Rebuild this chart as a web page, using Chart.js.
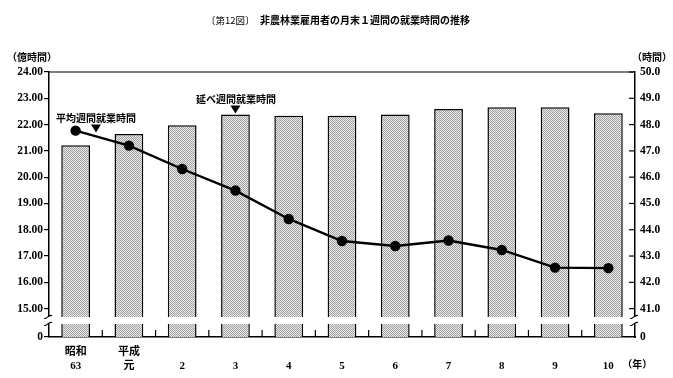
<!DOCTYPE html>
<html>
<head>
<meta charset="utf-8">
<script src="https://cdn.jsdelivr.net/npm/chart.js@4"></script>
<style>
  html, body { margin: 0; padding: 0; background: #fff; }
  #wrap { width: 673px; height: 378px; }
</style>
</head>
<body>
<div id="wrap"><canvas id="grafica" width="673" height="378"></canvas></div>
<script>
// data
const labels = [['昭和', '63'], ['平成', '元'], ['', '2'], ['', '3'], ['', '4'], ['', '5'],
                ['', '6'], ['', '7'], ['', '8'], ['', '9'], ['', '10']];
const totalHours = [21.21, 21.64, 21.97, 22.38, 22.34, 22.34, 22.38, 22.59, 22.66, 22.66, 22.43];   // 億時間
const avgHours = [47.77, 47.2, 46.31, 45.49, 44.41, 43.57, 43.38, 43.59, 43.23, 42.56, 42.54];      // 時間
const leftTicks = [15, 16, 17, 18, 19, 20, 21, 22, 23, 24];
const rightTicks = [41, 42, 43, 44, 45, 46, 47, 48, 49, 50];
const leftMin = 13.92, rightMin = 39.92;

const numFont = "'Liberation Serif', 'Noto Sans CJK JP', serif";
const jpFont = "'Noto Sans CJK JP', sans-serif";

const graph = document.querySelector('#grafica');

// dotted grey fill like the printed screen
function dotPattern() {
  const c = document.createElement('canvas');
  c.width = 2; c.height = 2;
  const g = c.getContext('2d');
  g.fillStyle = '#ebebeb'; g.fillRect(0, 0, 2, 2);
  g.fillStyle = '#a0a0a0'; g.fillRect(0, 0, 1, 1); g.fillRect(1, 1, 1, 1);
  return graph.getContext('2d').createPattern(c, 'repeat');
}

function squiggle(ctx, x, y) {
  ctx.beginPath();
  ctx.moveTo(x - 5, y + 1.5);
  ctx.bezierCurveTo(x - 2, y + 2.5, x - 1, y - 2.5, x + 3, y - 1.5);
  ctx.stroke();
}

const extras = {
  id: 'extras',
  afterDatasetsDraw(chart) {
    const ctx = chart.ctx;
    const a = chart.chartArea;
    const y = chart.scales.y, y2 = chart.scales.y2, x = chart.scales.x;
    ctx.save();
    ctx.strokeStyle = '#000';
    ctx.fillStyle = '#000';

    // top frame line
    ctx.lineWidth = 1.2;
    ctx.beginPath(); ctx.moveTo(a.left, a.top); ctx.lineTo(a.right, a.top); ctx.stroke();

    // inward ticks on the right axis
    rightTicks.forEach(v => {
      const py = y2.getPixelForValue(v);
      ctx.beginPath(); ctx.moveTo(a.right - 6, py); ctx.lineTo(a.right, py); ctx.stroke();
    });

    // upward ticks between categories
    const half = (x.getPixelForValue(1) - x.getPixelForValue(0)) / 2;
    for (let i = 0; i < labels.length - 1; i++) {
      const px = x.getPixelForValue(i) + half;
      ctx.beginPath(); ctx.moveTo(px, a.bottom); ctx.lineTo(px, a.bottom - 7); ctx.stroke();
    }

    // axis break band
    const yb = y.getPixelForValue(14.55);
    ctx.fillStyle = '#fff';
    ctx.fillRect(a.left - 1, yb - 3.5, a.right - a.left + 2, 7);
    ctx.lineWidth = 1.1;
    [a.left, a.right].forEach(px => {
      squiggle(ctx, px, yb - 3.5);
      squiggle(ctx, px, yb + 3.5);
    });

    // texts
    ctx.fillStyle = '#000';
    ctx.textBaseline = 'middle';
    ctx.textAlign = 'left';
    ctx.font = '9.5px ' + jpFont;
    ctx.fillText('〔第12図〕', 206, 20);
    ctx.font = 'bold 10px ' + jpFont;
    ctx.fillText('非農林業雇用者の月末１週間の就業時間の推移', 260, 20);

    ctx.textAlign = 'center';
    ctx.fillText('（億時間）', 32, 57);
    ctx.fillText('（時間）', 652, 57);

    ctx.fillText('平均週間就業時間', 96, 118);
    ctx.fillText('延べ週間就業時間', 236, 99);

    // triangles pointing at the series
    const tri = (cx, top) => {
      ctx.beginPath();
      ctx.moveTo(cx - 5, top); ctx.lineTo(cx + 5, top); ctx.lineTo(cx, top + 8);
      ctx.closePath(); ctx.fill();
    };
    tri(96, 124.5);
    tri(x.getPixelForValue(3), 105.5);

    ctx.textAlign = 'left';
    ctx.fillText('（年）', x.getPixelForValue(10) + 14, 364);
    ctx.restore();
  }
};

const data = {
  labels: labels,
  datasets: [
    {
      type: 'line',
      label: '平均週間就業時間',
      data: avgHours,
      yAxisID: 'y2',
      borderColor: '#000',
      backgroundColor: '#000',
      borderWidth: 2.4,
      pointRadius: 4,
      pointBackgroundColor: '#000',
      tension: 0,
      order: 0
    },
    {
      type: 'bar',
      label: '延べ週間就業時間',
      data: totalHours,
      yAxisID: 'y',
      backgroundColor: dotPattern(),
      borderColor: '#000',
      borderWidth: 1.5,
      barPercentage: 0.54,
      categoryPercentage: 1,
      order: 1
    }
  ]
};

const config = {
  type: 'bar',
  data: data,
  plugins: [extras],
  options: {
    responsive: false,
    animation: false,
    layout: { padding: { top: 72, left: 0, right: 0, bottom: 0 } },
    plugins: { legend: { display: false }, tooltip: { enabled: false }, title: { display: false } },
    scales: {
      x: {
        offset: true,
        grid: { display: false, drawTicks: false },
        border: { color: '#000', width: 1.5 },
        ticks: {
          color: '#000', padding: 9, maxRotation: 0, autoSkip: false,
          font: { family: numFont, size: 11, weight: 'bold', lineHeight: 1.2 }
        },
        afterFit(s) { s.height = 41; }
      },
      y: {
        position: 'left',
        min: leftMin, max: 24,
        afterBuildTicks(s) { s.ticks = [leftMin].concat(leftTicks).map(v => ({ value: v })); },
        grid: { drawOnChartArea: false, drawTicks: true, tickLength: 5, color: '#000', lineWidth: 1.2 },
        border: { color: '#000', width: 1.5 },
        ticks: {
          color: '#000', padding: 1,
          font: { family: numFont, size: 11.5, weight: 'bold' },
          callback: v => v === leftMin ? '0' : v.toFixed(2)
        },
        afterFit(s) { s.width = 49; }
      },
      y2: {
        position: 'right',
        min: rightMin, max: 50,
        afterBuildTicks(s) { s.ticks = [rightMin].concat(rightTicks).map(v => ({ value: v })); },
        grid: { drawOnChartArea: false, drawTicks: false },
        border: { color: '#000', width: 1.5 },
        ticks: {
          color: '#000', padding: 5,
          font: { family: numFont, size: 11.5, weight: 'bold' },
          callback: v => v === rightMin ? '0' : v.toFixed(1)
        },
        afterFit(s) { s.width = 38; }
      }
    }
  }
};

new Chart(graph, config);
</script>
</body>
</html>
